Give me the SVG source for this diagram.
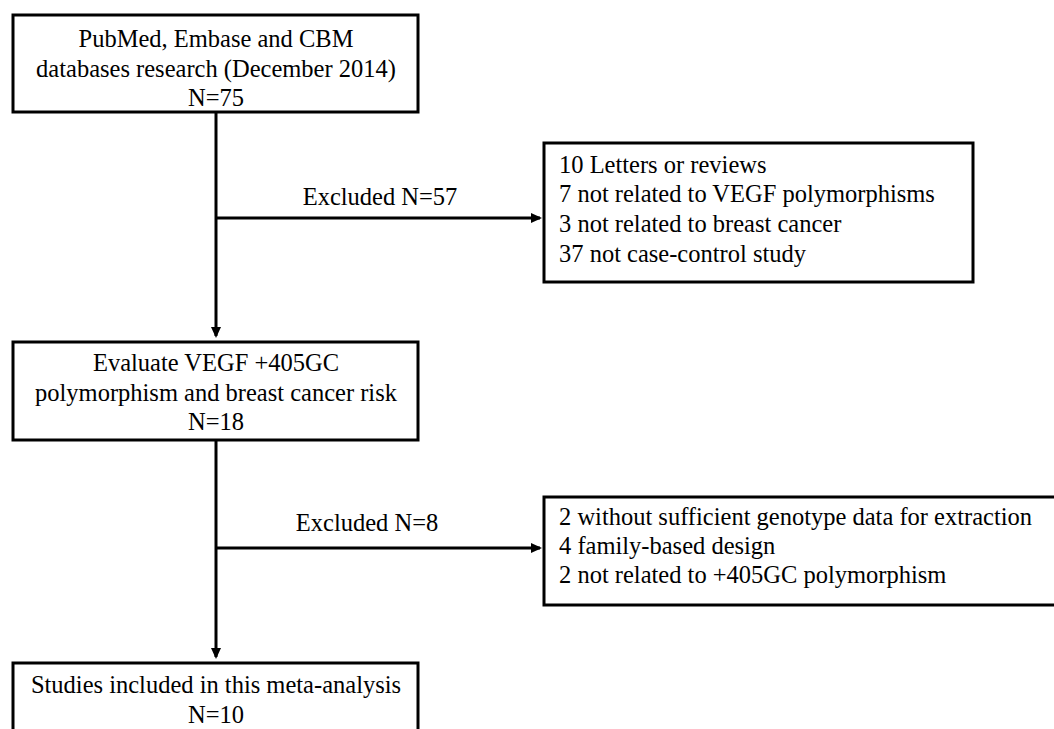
<svg xmlns="http://www.w3.org/2000/svg" width="1054" height="729" viewBox="0 0 1054 729">
<style>
.box{fill:#fff;stroke:#000;stroke-width:3}
.t{font-family:"Liberation Serif","Times New Roman",serif;font-size:24.5px;fill:#000}
.c{text-anchor:middle}
.ln{stroke:#000;stroke-width:3;fill:none}
</style>
<defs>
<marker id="ah" markerWidth="12" markerHeight="12" refX="9" refY="6" orient="auto" markerUnits="userSpaceOnUse">
<path d="M0,1 L11,6 L0,11 Z" fill="#000"/>
</marker>
</defs>
<rect width="1054" height="729" fill="#fff"/>
<g id="connectors">
<line class="ln" x1="216" y1="112" x2="216" y2="336" marker-end="url(#ah)"/>
<line class="ln" x1="216" y1="218" x2="540" y2="218" marker-end="url(#ah)"/>
<line class="ln" x1="216" y1="440" x2="216" y2="657" marker-end="url(#ah)"/>
<line class="ln" x1="216" y1="548" x2="540" y2="548" marker-end="url(#ah)"/>
<text class="t c" x="380" y="205">Excluded N=57</text>
<text class="t c" x="367" y="531">Excluded N=8</text>
</g>
<g id="n1">
<rect class="box" x="13" y="15" width="405" height="97"/>
<text class="t c" x="216" y="47">PubMed, Embase and CBM</text>
<text class="t c" x="216" y="77">databases research (December 2014)</text>
<text class="t c" x="216" y="106">N=75</text>
</g>
<g id="n2">
<rect class="box" x="544" y="143" width="429" height="139"/>
<text class="t" x="559" y="173">10 Letters or reviews</text>
<text class="t" x="559" y="202">7 not related to VEGF polymorphisms</text>
<text class="t" x="559" y="232">3 not related to breast cancer</text>
<text class="t" x="559" y="262">37 not case-control study</text>
</g>
<g id="n3">
<rect class="box" x="13" y="342" width="405" height="98"/>
<text class="t c" x="216" y="371">Evaluate VEGF +405GC</text>
<text class="t c" x="216" y="401">polymorphism and breast cancer risk</text>
<text class="t c" x="216" y="430">N=18</text>
</g>
<g id="n4">
<rect class="box" x="544" y="497" width="520" height="108"/>
<text class="t" x="559" y="525">2 without sufficient genotype data for extraction</text>
<text class="t" x="559" y="554">4 family-based design</text>
<text class="t" x="559" y="583">2 not related to +405GC polymorphism</text>
</g>
<g id="n5">
<rect class="box" x="13" y="663" width="405" height="80"/>
<text class="t c" x="216" y="693">Studies included in this meta-analysis</text>
<text class="t c" x="216" y="723">N=10</text>
</g>
</svg>
